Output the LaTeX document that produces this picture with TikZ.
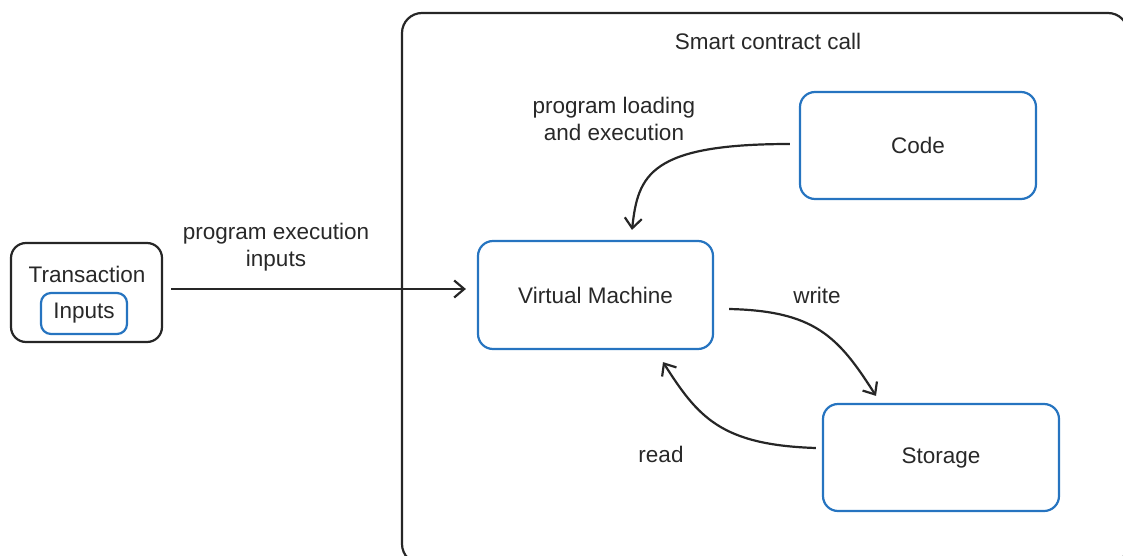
\documentclass[tikz,border=0pt]{standalone}
\usepackage{fontspec}
\setmainfont{Liberation Sans}
\usetikzlibrary{arrows.meta,calc}
\definecolor{boxblue}{RGB}{38,116,192}
\definecolor{txt}{RGB}{40,40,40}
\begin{document}
\begin{tikzpicture}[x=1pt,y=-1pt,
  font=\fontsize{22.5}{27}\selectfont, text=txt,
  bluebox/.style={draw=boxblue, line width=2.2pt, rounded corners=15pt, inner sep=0pt},
  blackbox/.style={draw=black!85, line width=2.2pt, rounded corners=15pt, inner sep=0pt},
  lbl/.style={align=center, inner sep=0pt},
  arr/.style={draw=black!85, line width=2.2pt, -{Straight Barb[length=10pt,width=17pt,line width=2.2pt]}}]
\useasboundingbox (0,0) rectangle (1123,556);
\begin{scope}
\clip (0,0) rectangle (1123,556);
\draw[black!85, line width=2.2pt, rounded corners=20pt] (402,13) rectangle (1128,564);
\end{scope}
\node[lbl] (title) at (768,41) {Smart contract call};
% transaction
\node[blackbox, minimum width=151pt, minimum height=99pt] (tx) at (86.5,292.5) {};
\node[lbl] (txlabel) at (87,274) {Transaction};
\node[bluebox, rounded corners=10pt, minimum width=86pt, minimum height=41pt] (inputs) at (84,313.5) {Inputs};
% main boxes
\node[bluebox, minimum width=235pt, minimum height=108pt] (vm) at (595.5,295) {Virtual Machine};
\node[bluebox, minimum width=236pt, minimum height=107pt] (code) at (918,145.5) {Code};
\node[bluebox, minimum width=236pt, minimum height=107pt] (storage) at (941,457.5) {Storage};
% labels
\node[lbl] (l1) at (276,247) {program execution\\inputs};
\node[lbl] (l2) at (614,119) {program loading\\and execution};
\node[lbl] (l3) at (817,295) {write};
\node[lbl] (l4) at (661,454) {read};
% arrows
\draw[arr] ([xshift=8pt,yshift=3.5pt]tx.east) -- ([xshift=-11pt,yshift=6pt]vm.west);
\draw[arr] ([xshift=-9pt,yshift=1.5pt]code.west) .. controls +(-140,0) and +(6,-55) .. ([xshift=36.5pt,yshift=10pt]vm.north);
\draw[arr] ([xshift=15pt,yshift=-14pt]vm.east) .. controls +(85,2) and +(-38,-60) .. ([xshift=-65pt,yshift=7pt]storage.north);
\draw[arr] ([xshift=-6pt,yshift=9.5pt]storage.west) .. controls +(-95,-3) and +(35,55) .. ([xshift=67.5pt,yshift=-12pt]vm.south);
\end{tikzpicture}
\end{document}
